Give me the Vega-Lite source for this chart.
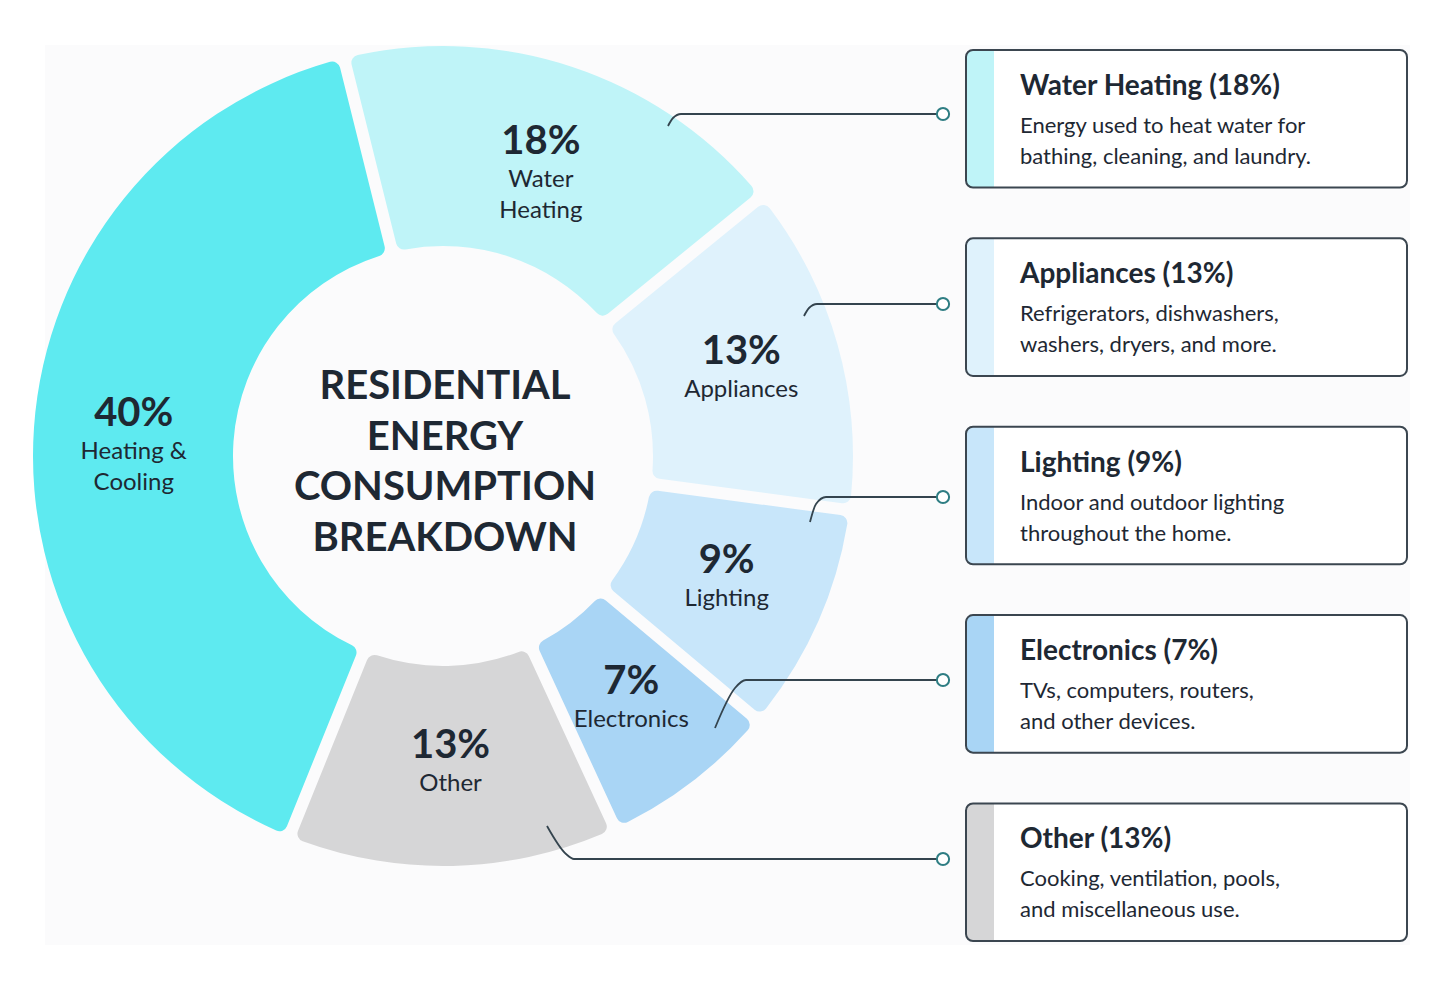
{
  "$schema": "https://vega.github.io/schema/vega-lite/v6.json",
  "width": 1454,
  "height": 988,
  "autosize": {"type": "fit", "contains": "padding"},
  "padding": 0,
  "background": "#FFFFFF",
  "config": {
    "view": {"stroke": null},
    "text": {"font": "Lato", "color": "#1E2833"}
  },
  "datasets": {
    "slices": [
      {"category": "Water Heating", "share": 0.18, "label": "Water\nHeating", "title": "Water Heating (18%)", "note": "Energy used to heat water for\nbathing, cleaning, and laundry.", "rank": 1},
      {"category": "Appliances", "share": 0.13, "label": "Appliances", "title": "Appliances (13%)", "note": "Refrigerators, dishwashers,\nwashers, dryers, and more.", "rank": 2},
      {"category": "Lighting", "share": 0.09, "label": "Lighting", "title": "Lighting (9%)", "note": "Indoor and outdoor lighting\nthroughout the home.", "rank": 3},
      {"category": "Electronics", "share": 0.07, "label": "Electronics", "title": "Electronics (7%)", "note": "TVs, computers, routers,\nand other devices.", "rank": 4},
      {"category": "Other", "share": 0.13, "label": "Other", "title": "Other (13%)", "note": "Cooking, ventilation, pools,\nand miscellaneous use.", "rank": 5},
      {"category": "Heating & Cooling", "share": 0.40, "label": "Heating &\nCooling", "title": "Heating & Cooling (40%)", "note": "", "rank": 6}
    ],
    "leaders": [
      {"category": "Water Heating", "seq": 1, "lx": 668, "ly": 126},
      {"category": "Water Heating", "seq": 2, "lx": 673, "ly": 118},
      {"category": "Water Heating", "seq": 3, "lx": 681, "ly": 114},
      {"category": "Water Heating", "seq": 4, "lx": 943, "ly": 114},
      {"category": "Appliances", "seq": 1, "lx": 804, "ly": 316},
      {"category": "Appliances", "seq": 2, "lx": 809, "ly": 308},
      {"category": "Appliances", "seq": 3, "lx": 817, "ly": 304},
      {"category": "Appliances", "seq": 4, "lx": 943, "ly": 304},
      {"category": "Lighting", "seq": 1, "lx": 810, "ly": 522},
      {"category": "Lighting", "seq": 2, "lx": 816, "ly": 504},
      {"category": "Lighting", "seq": 3, "lx": 826, "ly": 497},
      {"category": "Lighting", "seq": 4, "lx": 943, "ly": 497},
      {"category": "Electronics", "seq": 1, "lx": 715, "ly": 728},
      {"category": "Electronics", "seq": 2, "lx": 735, "ly": 688},
      {"category": "Electronics", "seq": 3, "lx": 746, "ly": 680},
      {"category": "Electronics", "seq": 4, "lx": 943, "ly": 680},
      {"category": "Other", "seq": 1, "lx": 547, "ly": 826},
      {"category": "Other", "seq": 2, "lx": 566, "ly": 854},
      {"category": "Other", "seq": 3, "lx": 574, "ly": 859},
      {"category": "Other", "seq": 4, "lx": 943, "ly": 859}
    ]
  },
  "resolve": {"scale": {"y": "independent"}},
  "layer": [
    {
      "data": {"values": [{}]},
      "mark": {"type": "rect", "fill": "#FBFBFC"},
      "encoding": {
        "x": {"datum": 45, "type": "quantitative", "scale": {"domain": [0, 1454], "nice": false, "zero": false}, "axis": null},
        "x2": {"datum": 1410},
        "y": {"datum": 45, "type": "quantitative", "scale": {"domain": [0, 988], "reverse": true, "nice": false, "zero": false}, "axis": null},
        "y2": {"datum": 945}
      }
    },
    {
      "data": {"name": "slices"},
      "mark": {"type": "arc", "radius": 410, "radius2": 210, "padAngle": 0.026, "cornerRadius": 8},
      "encoding": {
        "x": {"datum": 443, "type": "quantitative", "scale": {"domain": [0, 1454], "nice": false, "zero": false}, "axis": null},
        "y": {"datum": 456, "type": "quantitative", "scale": {"domain": [0, 988], "reverse": true, "nice": false, "zero": false}, "axis": null},
        "theta": {"field": "share", "type": "quantitative", "stack": true, "scale": {"range": [-0.2443, 6.0389]}},
        "order": {"field": "rank", "type": "quantitative"},
        "color": {
          "field": "category",
          "type": "nominal",
          "legend": null,
          "scale": {
            "domain": ["Heating & Cooling", "Water Heating", "Appliances", "Lighting", "Electronics", "Other"],
            "range": ["#5EEAF0", "#BFF4F8", "#DFF2FC", "#C8E6FA", "#A9D5F5", "#D6D6D7"]
          }
        }
      }
    },
    {
      "data": {"name": "slices"},
      "mark": {"type": "text", "radius": 310, "baseline": "alphabetic", "dy": -8, "fontSize": 40, "fontWeight": "bold"},
      "encoding": {
        "x": {"datum": 443, "type": "quantitative", "scale": {"domain": [0, 1454], "nice": false, "zero": false}, "axis": null},
        "y": {"datum": 456, "type": "quantitative", "scale": {"domain": [0, 988], "reverse": true, "nice": false, "zero": false}, "axis": null},
        "theta": {"field": "share", "type": "quantitative", "stack": true, "scale": {"range": [-0.2443, 6.0389]}},
        "order": {"field": "rank", "type": "quantitative"},
        "text": {"field": "share", "type": "quantitative", "format": ".0%"}
      }
    },
    {
      "data": {"name": "slices"},
      "mark": {"type": "text", "radius": 310, "baseline": "top", "dy": 6, "fontSize": 24, "lineBreak": "\n", "lineHeight": 31},
      "encoding": {
        "x": {"datum": 443, "type": "quantitative", "scale": {"domain": [0, 1454], "nice": false, "zero": false}, "axis": null},
        "y": {"datum": 456, "type": "quantitative", "scale": {"domain": [0, 988], "reverse": true, "nice": false, "zero": false}, "axis": null},
        "theta": {"field": "share", "type": "quantitative", "stack": true, "scale": {"range": [-0.2443, 6.0389]}},
        "order": {"field": "rank", "type": "quantitative"},
        "text": {"field": "label", "type": "nominal"}
      }
    },
    {
      "data": {"values": [{}]},
      "mark": {"type": "text", "fontSize": 40, "fontWeight": "bold", "lineHeight": 50.5, "baseline": "middle", "align": "center"},
      "encoding": {
        "x": {"datum": 445, "type": "quantitative", "scale": {"domain": [0, 1454], "nice": false, "zero": false}, "axis": null},
        "y": {"datum": 387, "type": "quantitative", "scale": {"domain": [0, 988], "reverse": true, "nice": false, "zero": false}, "axis": null},
        "text": {"value": ["RESIDENTIAL", "ENERGY", "CONSUMPTION", "BREAKDOWN"]}
      }
    },
    {
      "data": {"name": "leaders"},
      "mark": {"type": "line", "color": "#34444E", "strokeWidth": 1.8, "interpolate": "monotone"},
      "encoding": {
        "x": {"field": "lx", "type": "quantitative", "scale": {"domain": [0, 1454], "nice": false, "zero": false}, "axis": null},
        "y": {"field": "ly", "type": "quantitative", "scale": {"domain": [0, 988], "reverse": true, "nice": false, "zero": false}, "axis": null},
        "detail": {"field": "category", "type": "nominal"},
        "order": {"field": "seq", "type": "quantitative"}
      }
    },
    {
      "data": {"name": "leaders"},
      "transform": [{"filter": {"field": "seq", "equal": 4}}],
      "mark": {"type": "point", "shape": "circle", "filled": true, "fill": "#FFFFFF", "stroke": "#2E7D83", "strokeWidth": 2, "size": 150, "opacity": 1},
      "encoding": {
        "x": {"field": "lx", "type": "quantitative", "scale": {"domain": [0, 1454], "nice": false, "zero": false}, "axis": null},
        "y": {"field": "ly", "type": "quantitative", "scale": {"domain": [0, 988], "reverse": true, "nice": false, "zero": false}, "axis": null}
      }
    },
    {
      "data": {"name": "slices"},
      "transform": [{"filter": {"field": "rank", "lte": 5}}],
      "mark": {"type": "rect", "fill": "#FFFFFF", "cornerRadius": 7},
      "encoding": {
        "x": {"datum": 966, "type": "quantitative", "scale": {"domain": [0, 1454], "nice": false, "zero": false}, "axis": null},
        "x2": {"datum": 1407},
        "y": {"field": "category", "type": "nominal", "axis": null, "scale": {"type": "band", "domain": ["Water Heating", "Appliances", "Lighting", "Electronics", "Other"], "range": [50, 941], "paddingInner": 0.27, "paddingOuter": 0}}
      }
    },
    {
      "data": {"name": "slices"},
      "transform": [{"filter": {"field": "rank", "lte": 5}}],
      "mark": {"type": "rect", "cornerRadiusTopLeft": 7, "cornerRadiusBottomLeft": 7},
      "encoding": {
        "x": {"datum": 966, "type": "quantitative", "scale": {"domain": [0, 1454], "nice": false, "zero": false}, "axis": null},
        "x2": {"datum": 994},
        "y": {"field": "category", "type": "nominal", "axis": null, "scale": {"type": "band", "domain": ["Water Heating", "Appliances", "Lighting", "Electronics", "Other"], "range": [50, 941], "paddingInner": 0.27, "paddingOuter": 0}},
        "color": {"field": "category", "type": "nominal", "legend": null}
      }
    },
    {
      "data": {"name": "slices"},
      "transform": [{"filter": {"field": "rank", "lte": 5}}],
      "mark": {"type": "rect", "filled": false, "stroke": "#3B4650", "strokeWidth": 2, "cornerRadius": 7},
      "encoding": {
        "x": {"datum": 966, "type": "quantitative", "scale": {"domain": [0, 1454], "nice": false, "zero": false}, "axis": null},
        "x2": {"datum": 1407},
        "y": {"field": "category", "type": "nominal", "axis": null, "scale": {"type": "band", "domain": ["Water Heating", "Appliances", "Lighting", "Electronics", "Other"], "range": [50, 941], "paddingInner": 0.27, "paddingOuter": 0}}
      }
    },
    {
      "data": {"name": "slices"},
      "transform": [{"filter": {"field": "rank", "lte": 5}}],
      "mark": {"type": "text", "align": "left", "baseline": "alphabetic", "fontSize": 28, "fontWeight": "bold", "dy": -24},
      "encoding": {
        "x": {"datum": 1020, "type": "quantitative", "scale": {"domain": [0, 1454], "nice": false, "zero": false}, "axis": null},
        "y": {"field": "category", "type": "nominal", "bandPosition": 0.5, "axis": null, "scale": {"type": "band", "domain": ["Water Heating", "Appliances", "Lighting", "Electronics", "Other"], "range": [50, 941], "paddingInner": 0.27, "paddingOuter": 0}},
        "text": {"field": "title", "type": "nominal"}
      }
    },
    {
      "data": {"name": "slices"},
      "transform": [{"filter": {"field": "rank", "lte": 5}}],
      "mark": {"type": "text", "align": "left", "baseline": "alphabetic", "fontSize": 22, "lineBreak": "\n", "lineHeight": 31, "dy": 14},
      "encoding": {
        "x": {"datum": 1020, "type": "quantitative", "scale": {"domain": [0, 1454], "nice": false, "zero": false}, "axis": null},
        "y": {"field": "category", "type": "nominal", "bandPosition": 0.5, "axis": null, "scale": {"type": "band", "domain": ["Water Heating", "Appliances", "Lighting", "Electronics", "Other"], "range": [50, 941], "paddingInner": 0.27, "paddingOuter": 0}},
        "text": {"field": "note", "type": "nominal"}
      }
    }
  ]
}
